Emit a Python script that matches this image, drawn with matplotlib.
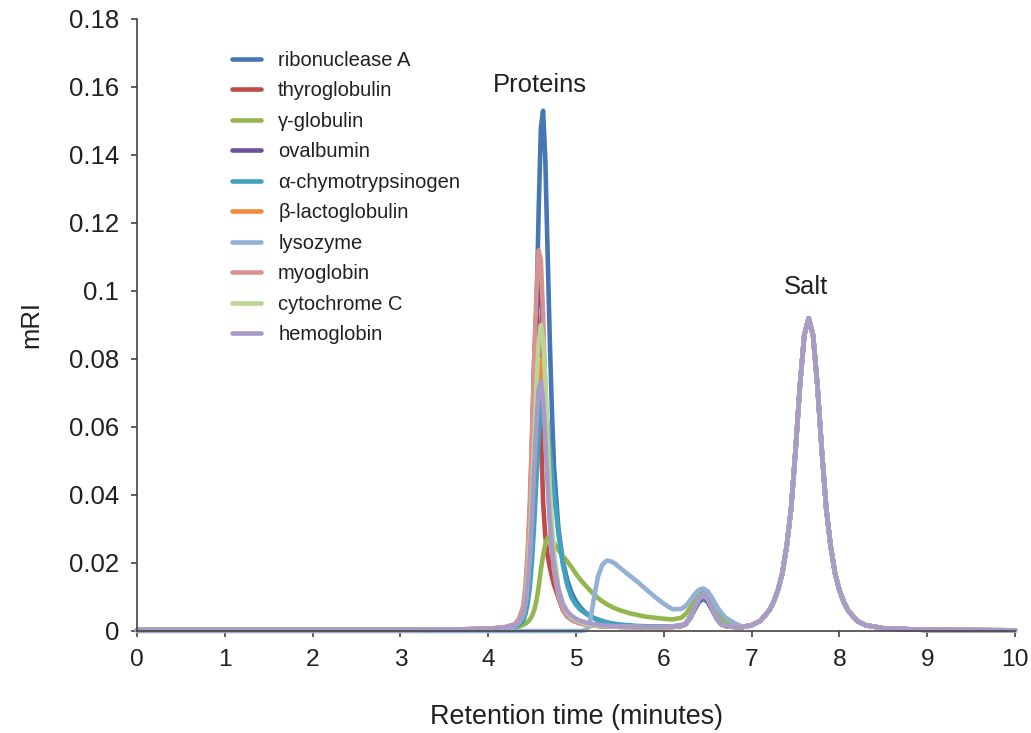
import matplotlib
matplotlib.use("Agg")
import matplotlib.pyplot as plt
from matplotlib import font_manager

# retention time grid (minutes), protein region
t_proteins = [0.0, 1.0, 2.0, 3.0, 3.5, 4.0, 4.2, 4.3, 4.35,
              4.4, 4.425, 4.45, 4.475, 4.5, 4.525, 4.55, 4.575, 4.6, 4.625, 4.65, 4.675, 4.7, 4.725, 4.75,
              4.8, 4.85, 4.9, 4.95, 5.0, 5.05, 5.1, 5.15, 5.2, 5.25, 5.3, 5.35, 5.4, 5.45, 5.5,
              5.6, 5.7, 5.8, 5.9, 6.0, 6.1,
              6.2, 6.25, 6.3, 6.35, 6.4, 6.45, 6.5, 6.55, 6.6, 6.65, 6.7, 6.8]

# salt peak, the same for every run
t_salt = [6.9, 7.0, 7.1, 7.2, 7.25, 7.3, 7.35, 7.4, 7.45, 7.5, 7.55, 7.6, 7.65,
          7.7, 7.75, 7.8, 7.85, 7.9, 7.95, 8.0, 8.05, 8.1, 8.2, 8.3, 8.5, 9.0, 10.0]
salt_mri = [0.0012, 0.0017, 0.0030, 0.0060, 0.0085, 0.0120, 0.0170, 0.0250, 0.0360, 0.0530, 0.0720, 0.0870, 0.0920,
            0.0870, 0.0720, 0.0530, 0.0360, 0.0250, 0.0170, 0.0120, 0.0085, 0.0060, 0.0030, 0.0017, 0.0008, 0.0003, 0.0002]

ribonuclease_a = [0.0003, 0.0003, 0.0003, 0.0003, 0.0004, 0.0006, 0.0010, 0.0016, 0.0026,
                  0.0050, 0.0085, 0.0150, 0.0260, 0.0430, 0.0660, 0.0940, 0.1240, 0.1480, 0.1530, 0.1390, 0.1130, 0.0870, 0.0650, 0.0480,
                  0.0300, 0.0205, 0.0150, 0.0112, 0.0087, 0.0069, 0.0056, 0.0046, 0.0038, 0.0032, 0.0028, 0.0024, 0.0021, 0.0019, 0.0017,
                  0.0015, 0.0013, 0.0012, 0.0012, 0.0012, 0.0013,
                  0.0015, 0.0020, 0.0037, 0.0062, 0.0085, 0.0095, 0.0085, 0.0062, 0.0037, 0.0020, 0.0015, 0.0012]
thyroglobulin = [0.0003, 0.0003, 0.0003, 0.0003, 0.0004, 0.0006, 0.0010, 0.0017, 0.0028,
                 0.0050, 0.0090, 0.0180, 0.0330, 0.0570, 0.0810, 0.0950, 0.0870, 0.0600, 0.0380, 0.0280, 0.0225, 0.0190, 0.0160, 0.0135,
                 0.0098, 0.0072, 0.0054, 0.0042, 0.0034, 0.0028, 0.0024, 0.0021, 0.0019, 0.0017, 0.0016, 0.0015, 0.0014, 0.0013, 0.0013,
                 0.0012, 0.0012, 0.0011, 0.0011, 0.0011, 0.0012,
                 0.0015, 0.0021, 0.0040, 0.0068, 0.0094, 0.0105, 0.0094, 0.0068, 0.0040, 0.0021, 0.0015, 0.0012]
gamma_globulin = [0.0003, 0.0003, 0.0003, 0.0003, 0.0004, 0.0005, 0.0007, 0.0010, 0.0013,
                  0.0018, 0.0022, 0.0027, 0.0034, 0.0045, 0.0062, 0.0090, 0.0130, 0.0180, 0.0222, 0.0255, 0.0273, 0.0276, 0.0268, 0.0258,
                  0.0238, 0.0220, 0.0205, 0.0187, 0.0168, 0.0151, 0.0136, 0.0122, 0.0109, 0.0097, 0.0087, 0.0079, 0.0072, 0.0066, 0.0061,
                  0.0053, 0.0047, 0.0042, 0.0039, 0.0036, 0.0034,
                  0.0039, 0.0050, 0.0068, 0.0090, 0.0108, 0.0115, 0.0108, 0.0088, 0.0064, 0.0043, 0.0029, 0.0016]
ovalbumin = [0.0003, 0.0003, 0.0003, 0.0003, 0.0004, 0.0006, 0.0011, 0.0019, 0.0032,
             0.0065, 0.0115, 0.0205, 0.0350, 0.0530, 0.0740, 0.0930, 0.1030, 0.1010, 0.0870, 0.0670, 0.0490, 0.0345, 0.0245, 0.0175,
             0.0098, 0.0062, 0.0043, 0.0033, 0.0027, 0.0023, 0.0020, 0.0018, 0.0016, 0.0015, 0.0014, 0.0014, 0.0013, 0.0013, 0.0012,
             0.0012, 0.0012, 0.0011, 0.0011, 0.0011, 0.0012,
             0.0015, 0.0021, 0.0040, 0.0068, 0.0093, 0.0103, 0.0093, 0.0068, 0.0040, 0.0021, 0.0015, 0.0012]
chymotrypsinogen = [0.0003, 0.0003, 0.0003, 0.0003, 0.0004, 0.0005, 0.0008, 0.0012, 0.0018,
                    0.0030, 0.0050, 0.0080, 0.0130, 0.0210, 0.0320, 0.0450, 0.0570, 0.0660, 0.0690, 0.0670, 0.0610, 0.0540, 0.0470, 0.0405,
                    0.0285, 0.0195, 0.0135, 0.0098, 0.0077, 0.0063, 0.0053, 0.0045, 0.0039, 0.0034, 0.0030, 0.0026, 0.0023, 0.0021, 0.0019,
                    0.0017, 0.0015, 0.0014, 0.0013, 0.0013, 0.0014,
                    0.0017, 0.0023, 0.0042, 0.0071, 0.0098, 0.0110, 0.0098, 0.0071, 0.0042, 0.0023, 0.0016, 0.0012]
lactoglobulin = [0.0003, 0.0003, 0.0003, 0.0003, 0.0004, 0.0006, 0.0010, 0.0016, 0.0025,
                 0.0048, 0.0080, 0.0140, 0.0240, 0.0370, 0.0520, 0.0660, 0.0760, 0.0800, 0.0750, 0.0620, 0.0470, 0.0340, 0.0250, 0.0180,
                 0.0105, 0.0066, 0.0046, 0.0034, 0.0027, 0.0023, 0.0020, 0.0018, 0.0016, 0.0015, 0.0014, 0.0014, 0.0013, 0.0013, 0.0012,
                 0.0012, 0.0012, 0.0011, 0.0011, 0.0011, 0.0012,
                 0.0015, 0.0021, 0.0040, 0.0068, 0.0094, 0.0105, 0.0094, 0.0068, 0.0040, 0.0021, 0.0015, 0.0012]
lysozyme = [0.0, 0.0, 0.0, 0.0, 0.0, 0.0, 0.0, 0.0, 0.0,
            0.0, 0.0, 0.0, 0.0, 0.0, 0.0, 0.0, 0.0, 0.0, 0.0, 0.0, 0.0, 0.0, 0.0, 0.0,
            0.0, 0.0, 0.0, 0.0, 0.0, 0.0, 0.0002, 0.0012, 0.0090, 0.0160, 0.0195, 0.0207, 0.0205, 0.0197, 0.0186,
            0.0165, 0.0145, 0.0122, 0.0100, 0.0080, 0.0064,
            0.0065, 0.0074, 0.0090, 0.0108, 0.0121, 0.0125, 0.0117, 0.0097, 0.0074, 0.0055, 0.0040, 0.0024]
myoglobin = [0.0003, 0.0003, 0.0003, 0.0003, 0.0004, 0.0007, 0.0012, 0.0020, 0.0035,
             0.0075, 0.0135, 0.0235, 0.0390, 0.0590, 0.0810, 0.1000, 0.1120, 0.1090, 0.0930, 0.0710, 0.0510, 0.0355, 0.0250, 0.0180,
             0.0100, 0.0065, 0.0045, 0.0034, 0.0027, 0.0022, 0.0019, 0.0017, 0.0016, 0.0015, 0.0014, 0.0014, 0.0013, 0.0013, 0.0012,
             0.0012, 0.0012, 0.0011, 0.0011, 0.0011, 0.0012,
             0.0015, 0.0021, 0.0040, 0.0068, 0.0094, 0.0105, 0.0094, 0.0068, 0.0040, 0.0021, 0.0015, 0.0012]
cytochrome_c = [0.0003, 0.0003, 0.0003, 0.0003, 0.0004, 0.0006, 0.0010, 0.0016, 0.0026,
                0.0050, 0.0088, 0.0158, 0.0268, 0.0410, 0.0570, 0.0730, 0.0850, 0.0900, 0.0860, 0.0740, 0.0580, 0.0430, 0.0310, 0.0228,
                0.0130, 0.0080, 0.0055, 0.0040, 0.0032, 0.0026, 0.0022, 0.0019, 0.0017, 0.0016, 0.0015, 0.0014, 0.0014, 0.0013, 0.0013,
                0.0012, 0.0012, 0.0011, 0.0011, 0.0011, 0.0012,
                0.0016, 0.0022, 0.0041, 0.0070, 0.0097, 0.0108, 0.0097, 0.0070, 0.0041, 0.0022, 0.0016, 0.0012]
hemoglobin = [0.0003, 0.0003, 0.0003, 0.0003, 0.0004, 0.0006, 0.0010, 0.0016, 0.0026,
              0.0050, 0.0080, 0.0130, 0.0220, 0.0340, 0.0480, 0.0610, 0.0710, 0.0735, 0.0680, 0.0570, 0.0440, 0.0330, 0.0250, 0.0190,
              0.0120, 0.0080, 0.0058, 0.0045, 0.0036, 0.0030, 0.0026, 0.0023, 0.0020, 0.0018, 0.0017, 0.0016, 0.0015, 0.0014, 0.0014,
              0.0013, 0.0012, 0.0012, 0.0012, 0.0012, 0.0013,
              0.0016, 0.0022, 0.0041, 0.0070, 0.0096, 0.0107, 0.0096, 0.0070, 0.0041, 0.0022, 0.0016, 0.0012]

labels = ['ribonuclease A', 'thyroglobulin', 'γ-globulin', 'ovalbumin', 'α-chymotrypsinogen',
          'β-lactoglobulin', 'lysozyme', 'myoglobin', 'cytochrome C', 'hemoglobin']
series = [ribonuclease_a, thyroglobulin, gamma_globulin, ovalbumin, chymotrypsinogen,
          lactoglobulin, lysozyme, myoglobin, cytochrome_c, hemoglobin]
colors = ['#4676b4', '#be4b48', '#94b64f', '#6f5198', '#3fa3bd',
          '#f08a3a', '#93b0d6', '#d8928f', '#bcd494', '#a99bc8']

x_ticks = list(range(0, 11))
y_ticks = [0, 0.02, 0.04, 0.06, 0.08, 0.1, 0.12, 0.14, 0.16, 0.18]

# narrow font for axis text if there is one
names = {f.name for f in font_manager.fontManager.ttflist}
if 'Liberation Sans Narrow' in names:
    cond, k = 'Liberation Sans Narrow', 1.0
else:
    cond, k = 'Liberation Sans', 0.84
plt.rcParams['font.family'] = ['Liberation Sans', 'DejaVu Sans']
ink = '#231f20'

fig = plt.figure(figsize=(10.31, 7.33), dpi=100)
ax = fig.add_axes([137 / 1031, 1 - 631 / 733, 878 / 1031, 612 / 733])

t_all = t_proteins + t_salt
for y, lab, c in zip(series, labels, colors):
    ax.plot(t_all, y + salt_mri, color=c, lw=3.3, label=lab, clip_on=False,
            solid_joinstyle='round', solid_capstyle='round')

ax.set_xlim(0, 10)
ax.set_ylim(0, 0.18)
ax.set_xticks(x_ticks)
ax.set_yticks(y_ticks)
ax.set_yticklabels(['%g' % v for v in y_ticks], fontsize=18.5, color=ink)
ax.set_xticklabels([str(v) for v in x_ticks], fontsize=21 * k, family=cond, color=ink)

for s in ['top', 'right']:
    ax.spines[s].set_visible(False)
for s in ['left', 'bottom']:
    ax.spines[s].set_color('#444444')
    ax.spines[s].set_linewidth(1.2)
ax.tick_params(axis='both', direction='out', length=4, width=1.2, color='#444444')
ax.tick_params(axis='y', pad=9)
ax.tick_params(axis='x', pad=9)

ax.set_xlabel('Retention time (minutes)', fontsize=23 * k, family=cond, color=ink, labelpad=24)
ax.set_ylabel('mRI', fontsize=22 * k, family=cond, color=ink, labelpad=18)

ax.text(4.59, 0.1605, 'Proteins', fontsize=22 * k, family=cond, color=ink, ha='center', va='center')
ax.text(7.62, 0.1012, 'Salt', fontsize=22 * k, family=cond, color=ink, ha='center', va='center')

leg = ax.legend(loc='upper left', bbox_to_anchor=(0.108, 0.948), frameon=False,
                fontsize=14.5, handlelength=1.45, handletextpad=0.85, labelspacing=0.57,
                borderpad=0, borderaxespad=0)
for txt in leg.get_texts():
    txt.set_color(ink)

fig.savefig('out.png', dpi=100)
